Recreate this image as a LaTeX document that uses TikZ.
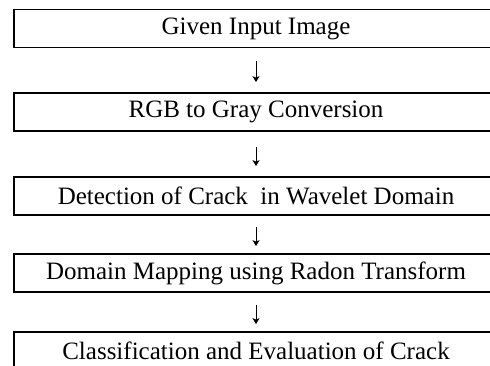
\documentclass[tikz,border=0pt]{standalone}
\usepackage{fontspec}
\setmainfont{Liberation Serif}
\usetikzlibrary{arrows.meta}
\begin{document}
\begin{tikzpicture}[x=1pt,y=-1pt,
  stage/.style={draw,line width=1.8pt,minimum width=484pt,minimum height=38pt,
    inner sep=0pt,font=\fontsize{25}{30}\selectfont},
  flow/.style={line width=0.9pt,-{Stealth[length=6pt,width=7pt,inset=1.5pt]}}]
\useasboundingbox (0,0) rectangle (490,366);
\node[stage] (b1) at (256,28.5) {Given Input Image};
\node[stage] (b2) at (256,112) {RGB to Gray Conversion};
\node[stage] (b3) at (256,196) {Detection of Crack\ \ in Wavelet Domain};
\node[stage] (b4) at (256,273) {Domain Mapping using Radon Transform};
\node[stage] (b5) at (256,351) {Classification and Evaluation of Crack};
\draw[flow,shorten <=13pt,shorten >=10pt] (b1.south) -- (b2.north);
\draw[flow,shorten <=15pt,shorten >=10pt] (b2.south) -- (b3.north);
\draw[flow,shorten <=11pt,shorten >=7pt] (b3.south) -- (b4.north);
\draw[flow,shorten <=12pt,shorten >=7pt] (b4.south) -- (b5.north);
\end{tikzpicture}
\end{document}
